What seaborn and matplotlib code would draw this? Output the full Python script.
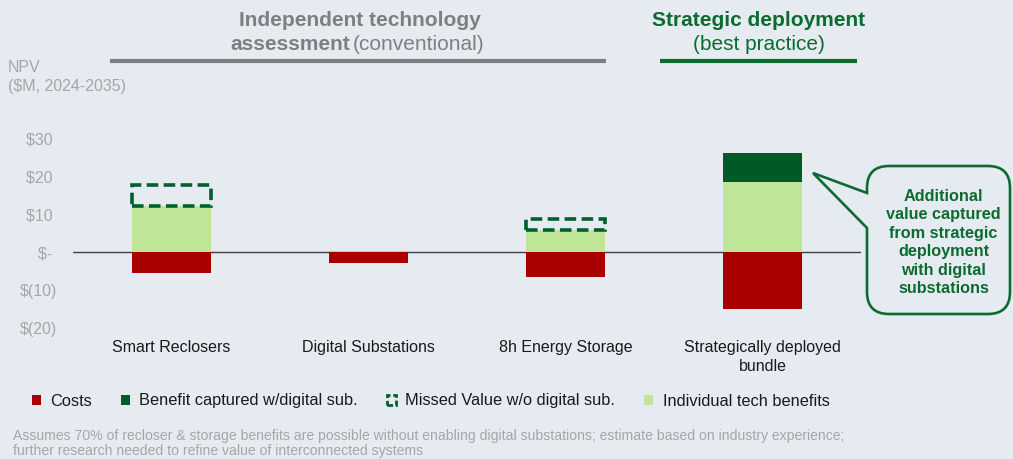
import matplotlib
matplotlib.use("Agg")
import matplotlib.pyplot as plt
import seaborn as sns
import pandas as pd
from matplotlib.patches import Patch, PathPatch
from matplotlib.path import Path
from matplotlib.lines import Line2D

# ---------------- data ----------------
categories = ["Smart Reclosers", "Digital Substations", "8h Energy Storage",
              "Strategically deployed\nbundle"]
costs = [-5.6, -2.8, -6.6, -15.1]
individual_benefits = [12.0, 0.0, 5.9, 18.3]
missed_value = [5.6, 0.0, 2.8, 0.0]
captured_benefit = [0.0, 0.0, 0.0, 7.8]
y_ticks = [-20, -10, 0, 10, 20, 30]
y_tick_labels = ["$(20)", "$(10)", "$- ", "$10 ", "$20 ", "$30 "]
legend_labels = ["Costs", "Benefit captured w/digital sub.",
                 "Missed Value w/o digital sub.", "Individual tech benefits"]
callout_text = "Additional\nvalue captured\nfrom strategic\ndeployment\nwith digital\nsubstations"
footnote_1 = ("Assumes 70% of recloser & storage benefits are possible without enabling digital "
              "substations; estimate based on industry experience;")
footnote_2 = "further research needed to refine value of interconnected systems"

# ---------------- style ----------------
W, H = 1013, 459
BG = "#E5EBF1"
RED = "#A80000"
DARK = "#005A28"
DASH = "#00602C"
LIGHT = "#BFE598"
GRAYTXT = "#A6A6A6"
HEADGRAY = "#7F7F7F"
HEADGREEN = "#0D6B30"
TXT = "#1A1A1A"

sns.set_style("white")
plt.rcParams["font.family"] = ["Liberation Sans", "DejaVu Sans"]


def fx(x):
    return x / W


def fy(y):
    return 1 - y / H


df = pd.DataFrame({"category": categories, "costs": costs,
                   "individual": individual_benefits, "missed": missed_value,
                   "captured": captured_benefit})

fig = plt.figure(figsize=(W / 100, H / 100), dpi=100, facecolor=BG)
ax = fig.add_axes([fx(73), fy(335.6), 788 / W, 205.2 / H])
ax.set_facecolor(BG)

common = dict(x="category", order=categories, width=0.4, saturation=1, ax=ax,
              errorbar=None)
sns.barplot(data=df, y="costs", color=RED, linewidth=0, zorder=2, **common)
ind = df[df["individual"] > 0]
sns.barplot(data=ind, y="individual", color=LIGHT, linewidth=0, zorder=2, **common)
cap = df[df["captured"] > 0]
sns.barplot(data=cap, y="captured", bottom=cap["individual"].to_numpy(), color=DARK,
            linewidth=0, zorder=2, **common)
mis = df[df["missed"] > 0]
sns.barplot(data=mis, y="missed", bottom=mis["individual"].to_numpy(), color=DASH,
            fill=False, linewidth=2.6, linestyle=(0, (3.2, 1.5)), zorder=3, **common)

ax.set_xlim(-0.5, 3.5)
ax.set_ylim(-22, 32)
for s in ax.spines.values():
    s.set_visible(False)
ax.axhline(0, color="#404040", lw=1.0, zorder=1)
ax.set_yticks(y_ticks)
ax.set_yticklabels(y_tick_labels)
ax.tick_params(axis="y", length=0, pad=11.5, labelsize=11.5, labelcolor=GRAYTXT)
ax.tick_params(axis="x", length=0, pad=3.5, labelsize=11.5, labelcolor=TXT)
for lbl in ax.get_xticklabels():
    lbl.set_linespacing(1.3)
ax.set_xlabel("")
ax.set_ylabel("")
ax.grid(False)

# ---------------- headers ----------------
fig.text(fx(360), fy(20), "Independent technology", ha="center", va="center",
         fontsize=15, fontweight="bold", color=HEADGRAY)
fig.text(fx(350), fy(45), "assessment", ha="right", va="center",
         fontsize=15, fontweight="bold", color=HEADGRAY)
fig.text(fx(353), fy(45), "(conventional)", ha="left", va="center",
         fontsize=15, color=HEADGRAY)
fig.add_artist(Line2D([fx(110), fx(606)], [fy(61), fy(61)], color=HEADGRAY, lw=3,
                      solid_capstyle="butt"))
fig.text(fx(759), fy(20), "Strategic deployment", ha="center", va="center",
         fontsize=15, fontweight="bold", color=HEADGREEN)
fig.text(fx(759), fy(45), "(best practice)", ha="center", va="center",
         fontsize=15, color=HEADGREEN)
fig.add_artist(Line2D([fx(660), fx(857)], [fy(61), fy(61)], color=HEADGREEN, lw=3,
                      solid_capstyle="butt"))

fig.text(fx(8), fy(68), "NPV", ha="left", va="center", fontsize=11.5, color=GRAYTXT)
fig.text(fx(8), fy(86), "($M, 2024-2035)", ha="left", va="center", fontsize=11.5,
         color=GRAYTXT)

# ---------------- callout ----------------
L, T, R, B, r = 867, 166, 1010, 314, 22
tip = (813, 173)
pts = [(L, 193), (L, T + r), (L, T), (L + r, T), (R - r, T), (R, T), (R, T + r),
       (R, B - r), (R, B), (R - r, B), (L + r, B), (L, B), (L, B - r), (L, 228), tip,
       (L, 193)]
codes = [Path.MOVETO, Path.LINETO, Path.CURVE3, Path.CURVE3, Path.LINETO, Path.CURVE3,
         Path.CURVE3, Path.LINETO, Path.CURVE3, Path.CURVE3, Path.LINETO, Path.CURVE3,
         Path.CURVE3, Path.LINETO, Path.LINETO, Path.CLOSEPOLY]
path = Path([(fx(x), fy(y)) for x, y in pts], codes)
fig.add_artist(PathPatch(path, transform=fig.transFigure, facecolor=BG,
                         edgecolor=HEADGREEN, lw=1.9, joinstyle="miter"))
fig.text(fx(943.5), fy(242.5), callout_text, ha="center", va="center", fontsize=11.7,
         fontweight="bold", color=HEADGREEN, linespacing=1.28)

# ---------------- legend ----------------
handles = [Patch(facecolor=RED, edgecolor="none"),
           Patch(facecolor=DARK, edgecolor="none"),
           Patch(facecolor="none", edgecolor=DASH, linestyle=(0, (2, 1)), linewidth=2),
           Patch(facecolor=LIGHT, edgecolor="none")]
fig.legend(handles, legend_labels, loc="center left", bbox_to_anchor=(fx(32), fy(401)),
           ncol=4, frameon=False, fontsize=11.8, handlelength=0.55, handleheight=0.55,
           handletextpad=0.56, columnspacing=1.78, borderpad=0, borderaxespad=0,
           labelcolor=TXT)

# ---------------- footnote ----------------
fig.text(fx(13), fy(436), footnote_1, ha="left", va="center", fontsize=10.1, color=GRAYTXT)
fig.text(fx(13), fy(451), footnote_2, ha="left", va="center", fontsize=10.1, color=GRAYTXT)

fig.savefig("out.png", dpi=100, facecolor=BG)
